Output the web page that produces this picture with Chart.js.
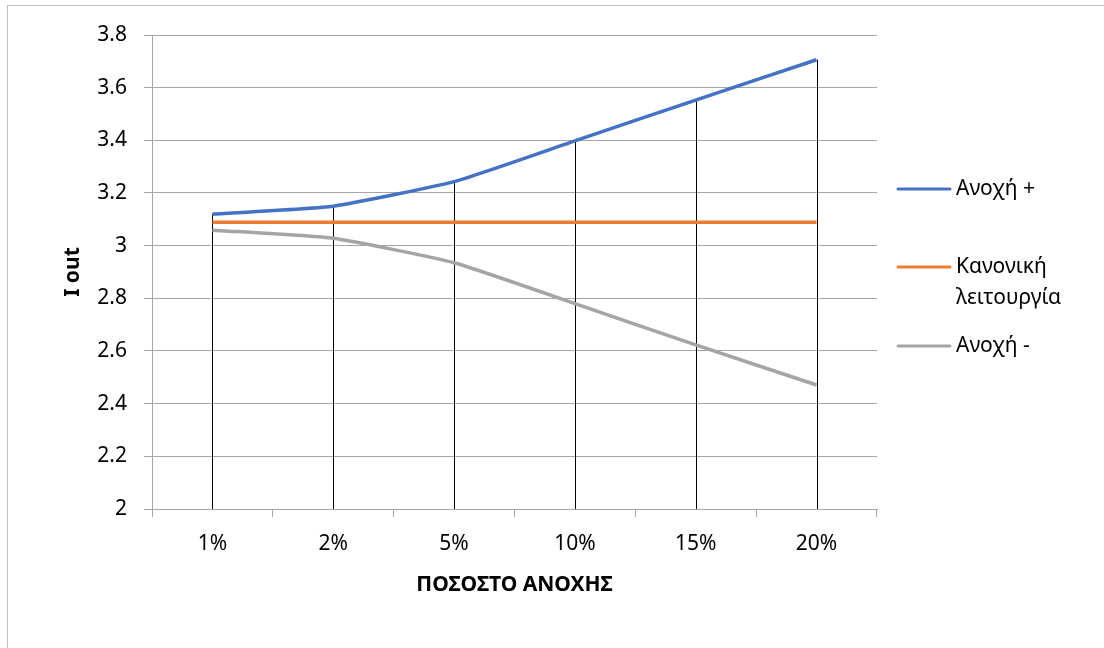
<!DOCTYPE html>
<html>
<head>
<meta charset="utf-8">
<script src="https://cdn.jsdelivr.net/npm/chart.js@4"></script>
<style>
  html, body { margin: 0; padding: 0; background: #fff; }
  #wrap { position: relative; width: 1104px; height: 648px; }
</style>
</head>
<body>
<div id="wrap"><canvas id="chart" width="1104" height="648"></canvas></div>
<script>
// tolerance percentages on the x axis
const categories = ['1%', '2%', '5%', '10%', '15%', '20%'];

const seriesNames = [['Ανοχή +'], ['Κανονική', 'λειτουργία'], ['Ανοχή -']];
const plusValues = [3.12, 3.15, 3.243, 3.398, 3.553, 3.706];
const normalValues = [3.089, 3.089, 3.089, 3.089, 3.089, 3.089];
const minusValues = [3.059, 3.028, 2.935, 2.78, 2.623, 2.471];
const seriesColors = ['#4472C4', '#ED7D31', '#A5A5A5'];

const yTicks = [2, 2.2, 2.4, 2.6, 2.8, 3, 3.2, 3.4, 3.6, 3.8];
const xTitle = 'ΠΟΣΟΣΤΟ ΑΝΟΧΗΣ';
const yTitle = 'I out';

const FONT = '"Noto Sans", "Open Sans", sans-serif';
const GRID = '#a6a6a6';

// outer frame, drop lines, axis titles and legend
const extras = {
  id: 'extras',
  beforeDraw(chart) {
    const ctx = chart.ctx;
    ctx.save();
    ctx.fillStyle = '#fff';
    ctx.fillRect(0, 0, chart.width, chart.height);
    ctx.strokeStyle = '#bfbfbf';
    ctx.lineWidth = 1;
    ctx.strokeRect(7.5, 5.5, chart.width + 20, chart.height + 20);
    ctx.restore();
  },
  beforeDatasetsDraw(chart) {
    // drop lines from the highest point of each category to the axis
    const ctx = chart.ctx;
    const x = chart.scales.x, y = chart.scales.y;
    ctx.save();
    ctx.strokeStyle = '#000';
    ctx.lineWidth = 1;
    categories.forEach((c, i) => {
      const top = Math.max(...chart.data.datasets.map(d => d.data[i]));
      const px = Math.round(x.getPixelForValue(i)) + 0.5;
      ctx.beginPath();
      ctx.moveTo(px, y.getPixelForValue(top));
      ctx.lineTo(px, chart.chartArea.bottom);
      ctx.stroke();
    });
    ctx.restore();
  },
  afterDraw(chart) {
    const ctx = chart.ctx;
    const area = chart.chartArea;
    ctx.save();
    ctx.fillStyle = '#000';
    ctx.font = 'bold 21px ' + FONT;
    ctx.textAlign = 'center';
    ctx.textBaseline = 'middle';
    ctx.fillText(xTitle, (area.left + area.right) / 2, 585);
    ctx.translate(73, 272);
    ctx.rotate(-Math.PI / 2);
    ctx.fillText(yTitle, 0, 0);
    ctx.restore();

    // legend on the right
    const rows = [189, 267, 346];
    ctx.save();
    ctx.font = '21px ' + FONT;
    ctx.textBaseline = 'middle';
    ctx.textAlign = 'left';
    chart.data.datasets.forEach((d, i) => {
      const ly = rows[i];
      ctx.strokeStyle = d.borderColor;
      ctx.lineWidth = 3;
      ctx.lineCap = 'round';
      ctx.beginPath();
      ctx.moveTo(898, ly);
      ctx.lineTo(950, ly);
      ctx.stroke();
      ctx.fillStyle = '#000';
      seriesNames[i].forEach((line, k) => ctx.fillText(line, 956, ly + k * 31));
    });
    ctx.restore();
  }
};

const values = [plusValues, normalValues, minusValues];

new Chart(document.getElementById('chart'), {
  type: 'line',
  data: {
    labels: categories,
    datasets: values.map((v, i) => ({
      label: seriesNames[i].join(' '),
      data: v,
      order: i,
      borderColor: seriesColors[i],
      backgroundColor: seriesColors[i],
      borderWidth: 3.5,
      pointRadius: 0,
      tension: 0.15,
      fill: false
    }))
  },
  options: {
    responsive: false,
    animation: false,
    events: [],
    layout: { padding: { top: 35, right: 227, left: 0, bottom: 0 } },
    plugins: { legend: { display: false }, tooltip: { enabled: false } },
    scales: {
      x: {
        offset: true,
        afterFit(s) { s.height = 139; },
        border: { color: GRID, width: 1 },
        grid: { offset: true, drawOnChartArea: false, drawTicks: true, tickLength: 8, color: GRID },
        ticks: { color: '#000', padding: 14, font: { family: FONT, size: 21 } }
      },
      y: {
        min: 2,
        max: 3.8,
        afterFit(s) { s.width = 152; },
        afterBuildTicks(s) { s.ticks = yTicks.map(v => ({ value: v })); },
        border: { color: GRID, width: 1 },
        grid: { color: GRID, tickLength: 8 },
        ticks: {
          color: '#000',
          padding: 17,
          font: { family: FONT, size: 21 },
          callback: v => String(Math.round(v * 10) / 10)
        }
      }
    }
  },
  plugins: [extras]
});
</script>
</body>
</html>
